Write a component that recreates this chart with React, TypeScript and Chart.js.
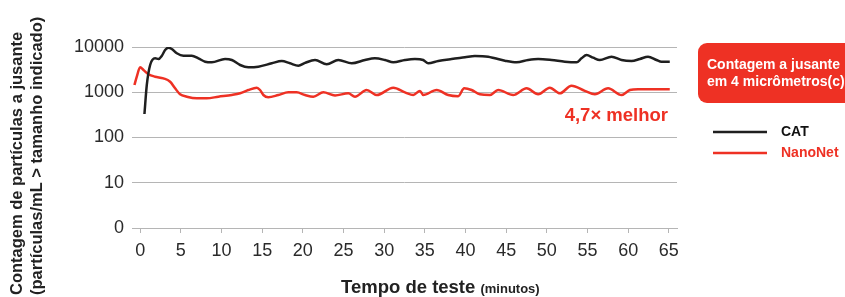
import React, { useEffect, useRef } from "react";
import { Chart, registerables } from "chart.js";

Chart.register(...registerables);

// ---- Data (minutes, particles/mL) ----
const catTimes = [0.53, 0.82, 1.23, 1.84, 2.25, 2.67, 3.07, 3.48, 3.89, 4.51, 5.32, 6.35, 7.16, 7.99, 8.81, 10.44, 11.27, 12.29, 13.3, 14.53, 16.18, 17.41, 18.43, 19.45, 20.27, 21.5, 22.94, 24.36, 26.01, 27.64, 28.87, 30.1, 31.12, 32.56, 33.78, 34.8, 35.42, 36.65, 38.29, 39.93, 41.15, 42.79, 43.61, 44.84, 46.28, 47.7, 48.93, 50.58, 52.21, 53.65, 54.26, 54.88, 55.69, 56.51, 57.95, 59.18, 60.41, 61.43, 62.44, 63.48, 64.09, 65.11];
const catCounts = [331, 1450, 4000, 5620, 5430, 6420, 8590, 9650, 9030, 7260, 6420, 6420, 5620, 4730, 4590, 5430, 5160, 4000, 3560, 3670, 4360, 4910, 4360, 3860, 4450, 5160, 4150, 5160, 4360, 5160, 5620, 5160, 4590, 5160, 5430, 5160, 4360, 4910, 5430, 5920, 6330, 6110, 5620, 4980, 4590, 5160, 5430, 5160, 4730, 4590, 5620, 6650, 5800, 5160, 6110, 5160, 4910, 5430, 6110, 5160, 4730, 4730];

const nanoTimes = [-0.7, -0.41, 0.0, 0.41, 1.02, 1.84, 2.86, 3.69, 4.3, 4.91, 5.74, 6.97, 8.19, 9.62, 11.27, 12.29, 13.3, 14.34, 14.74, 15.15, 15.76, 16.99, 18.22, 19.25, 20.27, 21.29, 22.52, 23.96, 25.59, 26.41, 27.85, 29.08, 31.12, 32.56, 33.58, 34.4, 34.8, 36.45, 37.87, 39.1, 39.84, 40.75, 41.77, 43.0, 44.02, 45.86, 47.51, 48.93, 50.37, 51.6, 53.03, 54.67, 55.9, 57.53, 59.18, 60.2, 61.22, 65.11];
const nanoCounts = [1446, 2207, 3560, 3100, 2500, 2207, 2030, 1710, 1222, 901, 798, 735, 735, 798, 869, 947, 1121, 1261, 1121, 869, 773, 869, 997, 997, 869, 798, 997, 850, 947, 798, 1121, 869, 1261, 997, 869, 1071, 869, 1121, 869, 820, 1222, 1121, 901, 869, 1121, 869, 1222, 901, 1261, 947, 1397, 1071, 901, 1222, 869, 1121, 1170, 1170];

const xTicks = [0, 5, 10, 15, 20, 25, 30, 35, 40, 45, 50, 55, 60, 65];
const yTicks = [1, 10, 100, 1000, 10000];
const yTickLabels = ["0", "10", "100", "1000", "10000"];

const seriesNames = ["CAT", "NanoNet"];
const yTitleLines = ["Contagem de partículas a jusante", "(partículas/mL > tamanho indicado)"];
const xTitleMain = "Tempo de teste";
const xTitleUnit = "(minutos)";
const boxLines = ["Contagem a jusante", "em 4 micrômetros(c)"];
const improvementText = "4,7× melhor";

const BLACK = "#1f1f1f";
const RED = "#ee3124";
const FONT = "'Liberation Sans', Arial, Helvetica, sans-serif";

const decorPlugin = {
  id: "decor",
  afterDraw(chart: any) {
    const ctx = chart.ctx as CanvasRenderingContext2D;
    ctx.save();
    // Y title (rotated)
    ctx.fillStyle = "#222";
    ctx.font = `bold 16.5px ${FONT}`;
    ctx.textAlign = "left";
    ctx.textBaseline = "alphabetic";
    ctx.save();
    ctx.translate(22, 295);
    ctx.rotate(-Math.PI / 2);
    ctx.fillText(yTitleLines[0], 0, 0);
    ctx.restore();
    ctx.save();
    ctx.translate(42, 295);
    ctx.rotate(-Math.PI / 2);
    ctx.fillText(yTitleLines[1], 0, 0);
    ctx.restore();

    // X title
    ctx.font = `bold 18.5px ${FONT}`;
    ctx.fillText(xTitleMain, 341, 293);
    const w = ctx.measureText(xTitleMain + " ").width;
    ctx.font = `bold 13px ${FONT}`;
    ctx.fillText(xTitleUnit, 341 + w, 293);

    // improvement label
    ctx.fillStyle = RED;
    ctx.font = `bold 18.5px ${FONT}`;
    ctx.textAlign = "right";
    ctx.fillText(improvementText, 668, 121);

    // red box
    ctx.fillStyle = RED;
    ctx.beginPath();
    (ctx as any).roundRect(698, 43, 170, 60, 9);
    ctx.fill();
    ctx.fillStyle = "#ffffff";
    ctx.textAlign = "left";
    ctx.font = `bold 14px ${FONT}`;
    ctx.fillText(boxLines[0], 707, 69);
    ctx.fillText(boxLines[1], 707, 86);

    // legend
    const ds = chart.data.datasets;
    const rows = [132, 153];
    ds.forEach((d: any, i: number) => {
      ctx.strokeStyle = d.borderColor;
      ctx.lineWidth = 2.7;
      ctx.beginPath();
      ctx.moveTo(713, rows[i]);
      ctx.lineTo(767, rows[i]);
      ctx.stroke();
      ctx.fillStyle = i === 0 ? "#111" : RED;
      ctx.font = `bold 14px ${FONT}`;
      ctx.textBaseline = "middle";
      ctx.fillText(d.label, 781, rows[i]);
    });
    ctx.restore();
  },
};

export default function App() {
  const ref = useRef<HTMLCanvasElement | null>(null);
  useEffect(() => {
    if (!ref.current) return;
    const chart = new Chart(ref.current, {
      type: "line",
      data: {
        datasets: [
          {
            label: seriesNames[0],
            data: catTimes.map((t, i) => ({ x: t, y: catCounts[i] })),
            borderColor: BLACK,
            borderWidth: 2.5,
            pointRadius: 0,
            cubicInterpolationMode: "monotone",
            fill: false,
          },
          {
            label: seriesNames[1],
            data: nanoTimes.map((t, i) => ({ x: t, y: nanoCounts[i] })),
            borderColor: RED,
            borderWidth: 2.5,
            pointRadius: 0,
            cubicInterpolationMode: "monotone",
            fill: false,
          },
        ],
      },
      options: {
        responsive: false,
        animation: false,
        devicePixelRatio: 1,
        layout: { padding: { left: 0, right: 168, top: 47, bottom: 0 } },
        plugins: { legend: { display: false }, tooltip: { enabled: false }, title: { display: false } },
        scales: {
          x: {
            type: "linear",
            min: -1,
            max: 66,
            afterBuildTicks: (s: any) => {
              s.ticks = xTicks.map((v) => ({ value: v }));
            },
            afterFit: (s: any) => {
              s.height = 69;
            },
            ticks: {
              autoSkip: false,
              maxRotation: 0,
              padding: 7,
              color: "#2a2a2a",
              font: { family: FONT, size: 18 },
              callback: (v: any) => String(v),
            },
            grid: { drawOnChartArea: false, drawTicks: true, tickLength: 5, color: "#b5b5b5", lineWidth: 1 },
            border: { display: true, color: "#b5b5b5", width: 1 },
          },
          y: {
            type: "logarithmic",
            min: 1,
            max: 10000,
            afterBuildTicks: (s: any) => {
              s.ticks = yTicks.map((v) => ({ value: v }));
            },
            afterFit: (s: any) => {
              s.width = 132;
            },
            ticks: {
              padding: 8,
              color: "#2a2a2a",
              font: { family: FONT, size: 18 },
              callback: (v: any) => {
                const idx = yTicks.indexOf(Number(v));
                return idx >= 0 ? yTickLabels[idx] : "";
              },
            },
            grid: { drawTicks: false, color: "#b5b5b5", lineWidth: 1 },
            border: { display: false },
          },
        },
      },
      plugins: [decorPlugin],
    } as any);
    return () => chart.destroy();
  }, []);
  return (
    <div style={{ position: "absolute", left: 0, top: 0, width: 845, height: 297, background: "#fff" }}>
      <canvas ref={ref} width={845} height={297} style={{ display: "block", width: 845, height: 297 }} />
    </div>
  );
}
